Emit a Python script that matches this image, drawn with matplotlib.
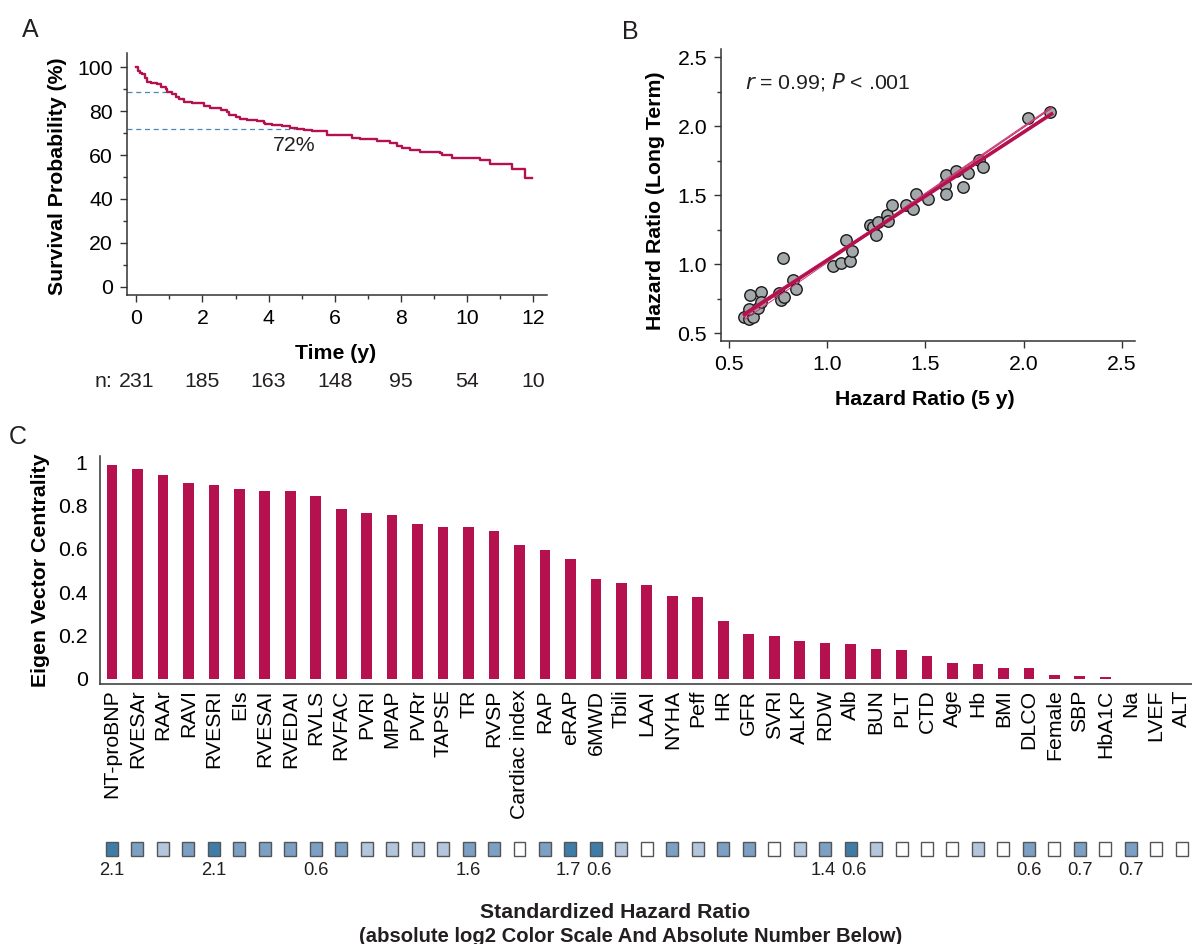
import matplotlib
matplotlib.use('Agg')
import matplotlib.pyplot as plt
import numpy as np

plt.rcParams['font.family'] = ['Liberation Sans', 'DejaVu Sans']
plt.rcParams['font.size'] = 15
plt.rcParams['text.color'] = '#231f20'
plt.rcParams['axes.edgecolor'] = '#333333'
plt.rcParams['axes.linewidth'] = 1.1

FS = 15.3
crimson = '#b5114f'
dash_blue = '#4a87b5'

# --- Panel A: Kaplan-Meier survival ---
km_time = [0, 0.05, 0.11, 0.18, 0.25, 0.33, 0.43, 0.64, 0.74, 0.89, 0.94, 1.09, 1.19,
           1.29, 1.44, 1.69, 1.89, 2.04, 2.24, 2.55, 2.75, 2.8, 3.0, 3.15, 3.35, 3.65,
           3.85, 3.9, 4.1, 4.41, 4.66, 4.86, 5.06, 5.31, 5.77, 6.52, 6.77, 7.27, 7.68,
           7.88, 8.03, 8.28, 8.58, 9.19, 9.24, 9.54, 10.39, 10.7, 11.35, 11.75, 11.98]
km_surv = [100, 98.5, 97.6, 96.8, 95, 93.5, 92.7, 92.2, 91.2, 90.1, 88.6, 87.7, 86.6,
           85.4, 84.3, 83.9, 83.6, 82.4, 81.3, 80.5, 79.8, 78.3, 77.5, 76.3, 75.8, 75.5,
           74.8, 74, 73.7, 73.3, 72.5, 71.9, 71.4, 71.0, 69.1, 67.9, 67.2, 66.6, 65.3,
           64.3, 63.4, 62.3, 61.2, 60.8, 60, 58.9, 57.7, 55.8, 53.5, 49.4, 49.4]
risk_times = [0, 2, 4, 6, 8, 10, 12]
risk_n = [231, 185, 163, 148, 95, 54, 10]

# --- Panel B: hazard ratios 5 y vs long term ---
hr_5y = [0.578, 0.603, 0.624, 0.603, 0.607, 0.649, 0.663, 0.663, 0.756, 0.763, 0.780,
         0.773, 0.824, 0.841, 1.031, 1.073, 1.115, 1.098, 1.129, 1.220, 1.231, 1.251,
         1.259, 1.307, 1.310, 1.331, 1.400, 1.437, 1.451, 1.514, 1.598, 1.603, 1.603,
         1.658, 1.692, 1.717, 1.773, 1.793, 2.021, 2.133]
hr_long = [0.618, 0.601, 0.618, 0.673, 0.774, 0.685, 0.798, 0.728, 0.793, 0.738, 0.764,
           1.048, 0.885, 0.817, 0.986, 1.010, 1.022, 1.173, 1.094, 1.286, 1.269, 1.214,
           1.303, 1.358, 1.310, 1.425, 1.430, 1.401, 1.507, 1.471, 1.570, 1.510, 1.647,
           1.678, 1.562, 1.663, 1.755, 1.702, 2.061, 2.104]
# resampled fits (intercept, slope)
boot_fits = [(0.1155, 0.925), (0.083, 0.940), (0.0615, 0.965), (0.031, 0.980),
             (0.0965, 0.935), (0.0564, 0.972)]

# --- Panel C: eigenvector centrality ---
features = ['NT-proBNP', 'RVESAr', 'RAAr', 'RAVI', 'RVESRI', 'EIs', 'RVESAI', 'RVEDAI',
            'RVLS', 'RVFAC', 'PVRI', 'MPAP', 'PVRr', 'TAPSE', 'TR', 'RVSP', 'Cardiac index',
            'RAP', 'eRAP', '6MWD', 'Tbili', 'LAAI', 'NYHA', 'Peff', 'HR', 'GFR', 'SVRI',
            'ALKP', 'RDW', 'Alb', 'BUN', 'PLT', 'CTD', 'Age', 'Hb', 'BMI', 'DLCO', 'Female',
            'SBP', 'HbA1C', 'Na', 'LVEF', 'ALT']
centrality = [0.99, 0.968, 0.941, 0.905, 0.896, 0.878, 0.869, 0.869, 0.846, 0.787, 0.765,
              0.756, 0.715, 0.701, 0.701, 0.683, 0.620, 0.593, 0.552, 0.462, 0.443, 0.434,
              0.380, 0.376, 0.267, 0.208, 0.199, 0.176, 0.163, 0.158, 0.136, 0.131, 0.104,
              0.072, 0.068, 0.05, 0.05, 0.018, 0.014, 0.009, 0, 0, 0]
hr_shade = [3, 2, 1, 2, 3, 2, 2, 2, 2, 2, 1, 1, 1, 1, 2, 2, 0, 2, 3, 3, 1, 0,
            2, 1, 2, 2, 0, 1, 2, 3, 1, 0, 0, 0, 1, 0, 2, 0, 2, 0, 2, 0, 0]
hr_text = ['2.1', '', '', '', '2.1', '', '', '', '0.6', '', '', '', '', '', '1.6', '',
           '', '', '1.7', '0.6', '', '', '', '', '', '', '', '', '1.4', '0.6', '', '', '',
           '', '', '', '0.6', '', '0.7', '', '0.7', '', '']
shade_colors = ['#ffffff', '#b3c6dd', '#7ba0c4', '#3f7da8']

fig = plt.figure(figsize=(11.92, 9.44), dpi=100)

# ---------- A ----------
axA = fig.add_axes([0.1063, 0.6875, 0.3526, 0.256])
axA.step(km_time, km_surv, where='post', color=crimson, lw=1.7, zorder=3)
axA.plot([-0.29, 0.92], [88.6, 88.6], ls=(0, (4, 3)), color=dash_blue, lw=0.9)
axA.plot([-0.29, 4.8], [72, 72], ls=(0, (4, 3)), color=dash_blue, lw=0.9)
axA.text(4.76, 64.5, '72%', ha='center', va='center', fontsize=FS)
axA.set_xlim(-0.29, 12.42)
axA.set_ylim(-3.8, 106.4)
axA.set_xticks(range(0, 13, 2))
axA.set_xticks(range(1, 12, 2), minor=True)
axA.set_yticks(range(0, 101, 20))
axA.set_yticks(range(10, 100, 20), minor=True)
axA.tick_params(which='both', direction='out', width=1, color='#333333', labelsize=FS)
axA.tick_params(which='major', length=5, pad=5)
axA.tick_params(which='minor', length=3)
for s in ['top', 'right']:
    axA.spines[s].set_visible(False)
axA.set_xlabel('Time (y)', fontweight='bold', fontsize=FS)
axA.xaxis.set_label_coords(0.496, -0.203)
axA.set_ylabel('Survival Probability (%)', fontweight='bold', fontsize=FS)
axA.yaxis.set_label_coords(-0.142, 0.49)
trA = axA.get_xaxis_transform()
axA.text(-0.72, -0.356, 'n:', transform=trA, ha='right', va='center', fontsize=FS)
for t, n in zip(risk_times, risk_n):
    axA.text(t, -0.356, str(n), transform=trA, ha='center', va='center', fontsize=FS)

# ---------- B ----------
axB = fig.add_axes([0.6049, 0.6388, 0.347, 0.309])
axB.scatter(hr_5y, hr_long, s=68, facecolor='#a3a8aa', edgecolor='#1a1a1a', lw=1.0, zorder=2)
xfit = np.array([min(hr_5y), max(hr_5y) + 0.01])
for a, b in boot_fits:
    axB.plot(xfit, a + b * xfit, color='#c63a72', lw=0.7, zorder=3)
slope, icpt = np.polyfit(hr_5y, hr_long, 1)
axB.plot(xfit, icpt + slope * xfit, color=crimson, lw=2.4, zorder=4)
axB.text(0.058, 0.887, r'$\it{r}$ = 0.99; $\it{P}$ < .001', transform=axB.transAxes,
         ha='left', va='center', fontsize=FS)
axB.set_xlim(0.46, 2.565)
axB.set_ylim(0.444, 2.556)
ticksB = [0.5, 1.0, 1.5, 2.0, 2.5]
axB.set_xticks(ticksB)
axB.set_xticklabels([f'{v:.1f}' for v in ticksB])
axB.set_yticks(ticksB)
axB.set_yticklabels([f'{v:.1f}' for v in ticksB])
axB.set_yticks([0.75, 1.25, 1.75, 2.25], minor=True)
axB.tick_params(which='both', direction='out', width=1, color='#333333', labelsize=FS)
axB.tick_params(which='major', length=5, pad=5)
axB.tick_params(which='minor', length=3)
for s in ['top', 'right']:
    axB.spines[s].set_visible(False)
axB.set_xlabel('Hazard Ratio (5 y)', fontweight='bold', fontsize=FS)
axB.xaxis.set_label_coords(0.493, -0.168)
axB.set_ylabel('Hazard Ratio (Long Term)', fontweight='bold', fontsize=FS)
axB.yaxis.set_label_coords(-0.135, 0.48)

# ---------- C ----------
idx = np.arange(len(features))
axC = fig.add_axes([0.0839, 1 - 684 / 944, 0.916, (684 - 456) / 944])
axC.bar(idx, centrality, width=0.42, color=crimson)
axC.set_xlim(-0.47, 42.4)
axC.set_ylim(-0.025, 1.03)
axC.set_yticks([0, 0.2, 0.4, 0.6, 0.8, 1.0])
axC.set_yticklabels(['0', '0.2', '0.4', '0.6', '0.8', '1'])
axC.set_xticks(idx)
axC.set_xticklabels(features, rotation=90)
axC.tick_params(axis='both', length=0, labelsize=FS)
axC.tick_params(axis='y', pad=9)
axC.tick_params(axis='x', pad=4)
for s in ['top', 'right']:
    axC.spines[s].set_visible(False)
axC.set_ylabel('Eigen Vector Centrality', fontweight='bold', fontsize=FS)
axC.yaxis.set_label_coords(-0.046, 0.5)

# colour squares row
axS = fig.add_axes([0.0839, 1 - 856 / 944, 0.916, 14 / 944])
axS.bar(idx, 1, width=0.47, bottom=0, color=[shade_colors[k] for k in hr_shade],
        edgecolor='#555555', lw=1, clip_on=False)
axS.set_xlim(-0.47, 42.4)
axS.set_ylim(0, 1)
axS.axis('off')
for i, lab in enumerate(hr_text):
    if lab:
        # numbers sitting next to a neighbour are nudged apart slightly
        dx = 0.0
        if i > 0 and hr_text[i - 1]:
            dx = 0.12
        elif i < len(hr_text) - 1 and hr_text[i + 1]:
            dx = -0.08
        axS.text(i + dx, -0.45, lab, ha='center', va='top', fontsize=13.2)

fig.text(0.516, 1 - 912 / 944, 'Standardized Hazard Ratio', ha='center', va='center',
         fontweight='bold', fontsize=FS)
fig.text(0.529, 1 - 936 / 944, '(absolute log2 Color Scale And Absolute Number Below)',
         ha='center', va='center', fontweight='bold', fontsize=14.6)

# panel letters
fig.text(30 / 1192, 1 - 30 / 944, 'A', ha='center', va='center', fontsize=18)
fig.text(630 / 1192, 1 - 32 / 944, 'B', ha='center', va='center', fontsize=18)
fig.text(18 / 1192, 1 - 437 / 944, 'C', ha='center', va='center', fontsize=18)

fig.savefig('out.png', dpi=100)
